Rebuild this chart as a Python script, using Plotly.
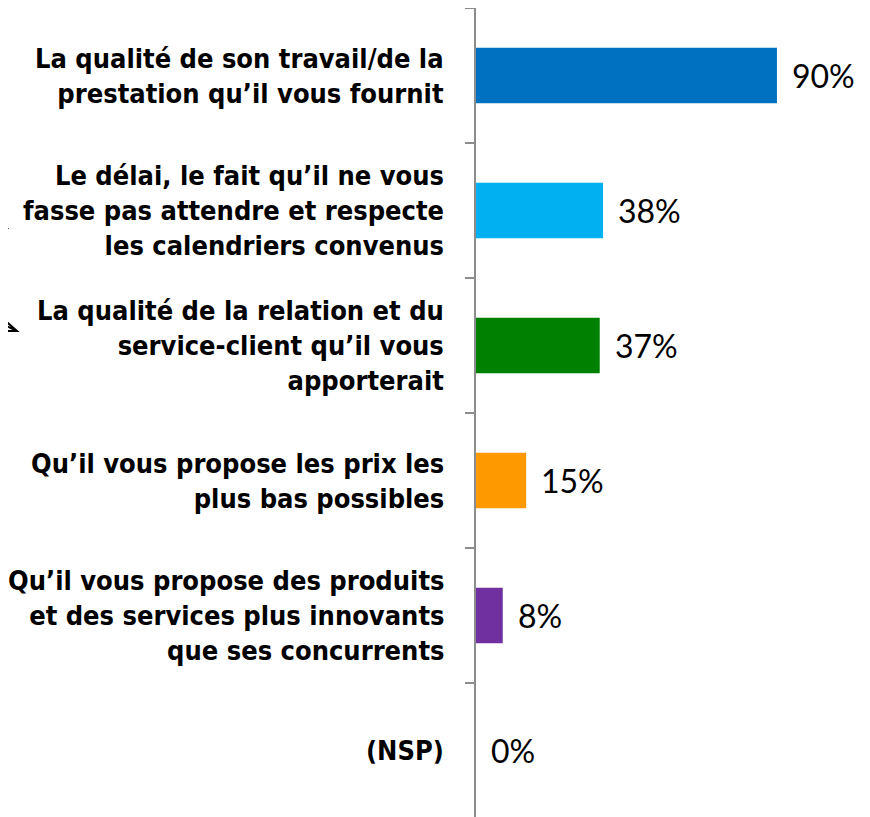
import plotly.graph_objects as go

categories = [
    "La qualité de son travail/de la<br>prestation qu’il vous fournit",
    "Le délai, le fait qu’il ne vous<br>fasse pas attendre et respecte<br>les calendriers convenus",
    "La qualité de la relation et du<br>service-client qu’il vous<br>apporterait",
    "Qu’il vous propose les prix les<br>plus bas possibles",
    "Qu’il vous propose des produits<br>et des services plus innovants<br>que ses concurrents",
    "(NSP)",
]
values = [90, 38, 37, 15, 8, 0]
value_labels = ["90%", "38%", "37%", "15%", "8%", "0%"]
colors = ["#0070C0", "#00B0F0", "#008000", "#FF9900", "#7030A0", "#7F7F7F"]

ids = [f"c{i}" for i in range(len(categories))]

# page geometry (the HTML body adds an 8px offset)
L, T = 468, 0
FIG_W, FIG_H = 862, 810
PLOT_W, PLOT_H = FIG_W - L, FIG_H - T
PX0, PY0 = 8 + L, 8 + T  # page coords of plot area top-left

fig = go.Figure()
fig.add_trace(go.Bar(
    x=values, y=ids, orientation="h",
    marker=dict(color=colors, line=dict(width=0)),
    width=0.41, hoverinfo="skip",
))

annotations = []
for cid, cat in zip(ids, categories):
    annotations.append(dict(
        x=0, xref="paper", y=cid, yref="y", text=cat, showarrow=False,
        xanchor="right", yanchor="middle", align="right", xshift=-30,
        font=dict(family="DejaVu Sans Condensed, DejaVu Sans", size=27, color="#000000", weight="bold"),
    ))
for cid, v, lab in zip(ids, values, value_labels):
    annotations.append(dict(
        x=v, xref="x", y=cid, yref="y", text=lab, showarrow=False,
        xanchor="left", yanchor="middle", xshift=13,
        font=dict(family="Lato", size=32, color="#000000"),
    ))

fig.update_layout(
    width=FIG_W, height=FIG_H,
    margin=dict(l=L, r=0, t=T, b=0),
    paper_bgcolor="white", plot_bgcolor="white",
    showlegend=False,
    xaxis=dict(range=[0, PLOT_W / 3.344], visible=False, fixedrange=True),
    yaxis=dict(
        categoryorder="array", categoryarray=ids, autorange="reversed",
        showticklabels=False, ticks="outside", tickson="boundaries",
        ticklen=9, tickwidth=2, tickcolor="#8C8C8C",
        showline=True, linecolor="#8C8C8C", linewidth=2,
        showgrid=False, zeroline=False,
    ),
    annotations=annotations,
)

def pp(x, y):
    return (x - PX0) / PLOT_W, 1 - (y - PY0) / PLOT_H

# decorative cropped arrow fragments at the left edge
p1, p2, p3 = pp(0, 228), pp(9, 228), pp(2, 239)
fig.add_shape(type="path", xref="paper", yref="paper",
              path=f"M{p1[0]},{p1[1]} L{p2[0]},{p2[1]} L{p3[0]},{p3[1]} Z",
              fillcolor="black", line=dict(width=0))

a, b, c, d = pp(0, 316), pp(17, 331), pp(0, 331), pp(0, 323)
fig.add_shape(type="path", xref="paper", yref="paper",
              path=f"M{a[0]},{a[1]} L{b[0]},{b[1]} L{c[0]},{c[1]} M{d[0]},{d[1]} L{b[0]},{b[1]}",
              line=dict(color="black", width=2))

fig.write_html("out.html")
